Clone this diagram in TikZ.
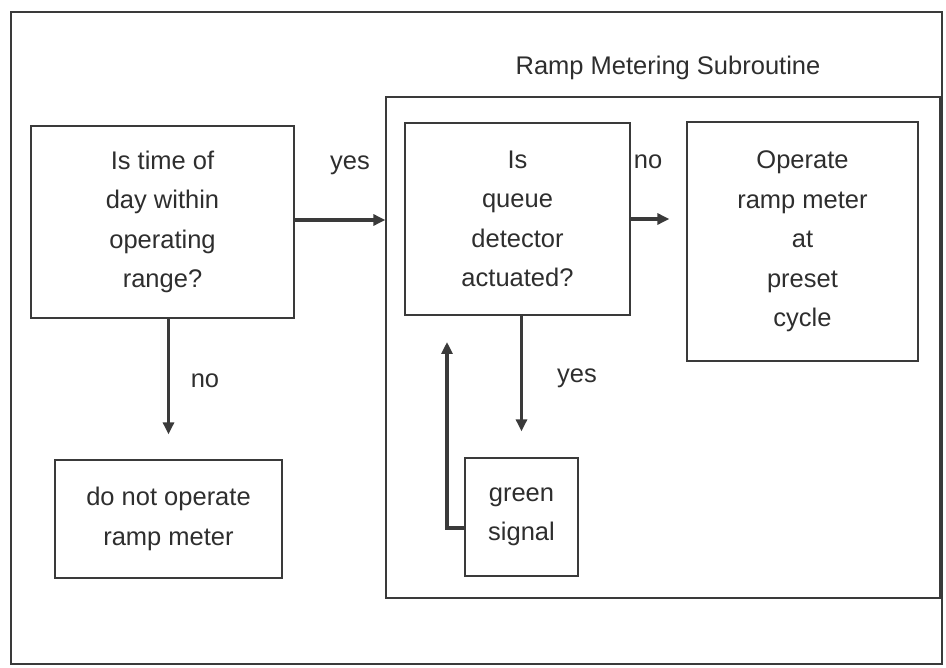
\documentclass[tikz,border=0pt]{standalone}
\usepackage{fontspec}
\setmainfont{Liberation Sans}
\usetikzlibrary{arrows.meta}
\definecolor{ink}{HTML}{3A3A3A}
\definecolor{txt}{HTML}{2E2E2E}
\begin{document}
\begin{tikzpicture}[x=1pt,y=-1pt,
  box/.style={draw=ink,line width=1.3pt,rectangle,inner sep=0pt,align=center,
    text=txt,font=\fontsize{25.5}{39.5}\selectfont},
  lbl/.style={text=txt,font=\fontsize{25.5}{30}\selectfont,inner sep=0pt},
  flow/.style={draw=ink,line width=3.2pt,-{Triangle[length=12pt,width=11pt]}}]
\useasboundingbox (0,0) rectangle (946,668);
% outer frame
\draw[ink,line width=1.3pt] (11,12) rectangle (942,664);
% subroutine frame and its title
\node[box,minimum width=554,minimum height=501] (sub) at (663,347.5) {};
\node[lbl] (title) at (668,68) {Ramp Metering Subroutine};
% decision and action boxes
\node[box,minimum width=263,minimum height=192] (tod) at (162.5,222) {Is time of\\day within\\operating\\range?};
\node[box,minimum width=227,minimum height=118] (dno) at (168.5,519) {do not operate\\ramp meter};
\node[box,minimum width=225,minimum height=192] (queue) at (517.5,219) {Is\\queue\\detector\\actuated?};
\node[box,minimum width=231,minimum height=239] (op) at (802.5,241.5) {Operate\\ramp meter\\at\\preset\\cycle};
\node[box,minimum width=113,minimum height=118] (green) at (521.5,517) {green\\signal};
% connectors
\draw[flow] (tod.east |- 0,220) -- (sub.west |- 0,220);
\draw[flow,shorten >=17pt] (queue.east) -- (queue.east -| op.west);
\draw[flow,shorten >=25pt] (dno.north |- tod.south) -- (dno.north);
\draw[flow,shorten >=26pt] (green.north |- queue.south) -- (green.north);
\coordinate (loopend) at (447,342);
\draw[flow] ([yshift=-11pt]green.west) -| (loopend);
% branch labels
\node[lbl] (lyes) at (350,165) {yes};
\node[lbl] (lno) at (648,162) {no};
\node[lbl] (lno2) at (205,381) {no};
\node[lbl] (lyes2) at (577,378) {yes};
\end{tikzpicture}
\end{document}
